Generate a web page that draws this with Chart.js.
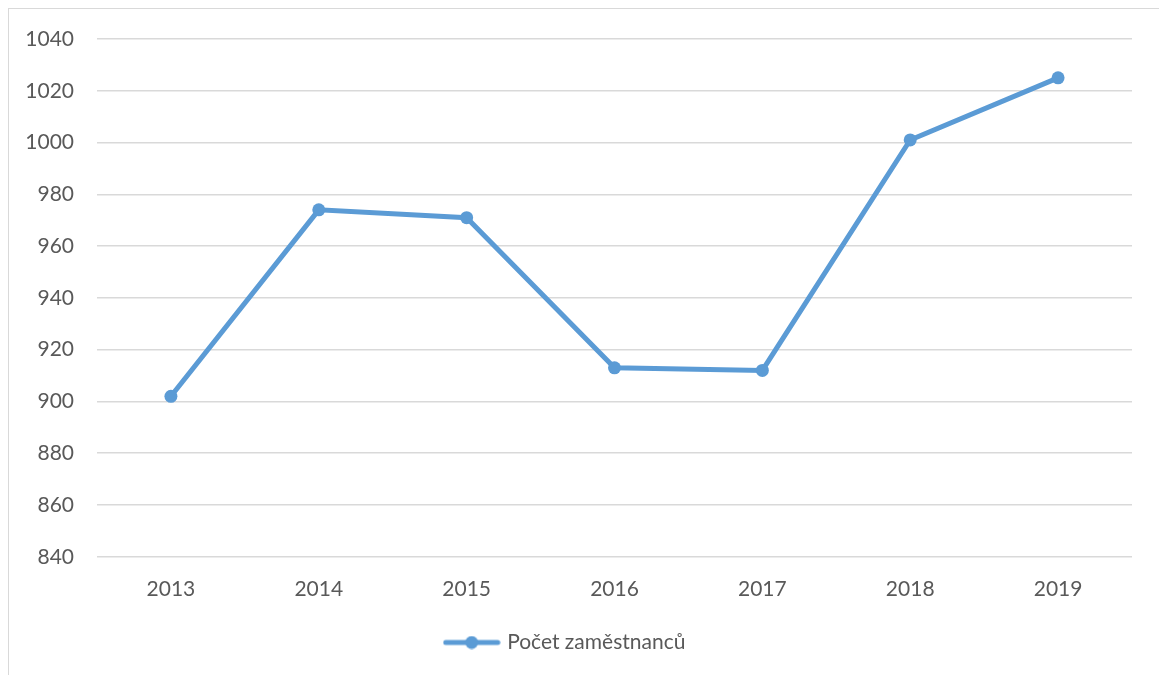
<!DOCTYPE html>
<html>
<head>
<meta charset="utf-8">
<script src="https://cdn.jsdelivr.net/npm/chart.js@4.4.1/dist/chart.umd.min.js"></script>
<style>
  html, body { margin: 0; padding: 0; background: #fff; overflow: hidden; }
  #wrap { position: relative; width: 1159px; height: 675px; }
  #frame { position: absolute; left: 8px; top: 8px; width: 1200px; height: 700px; border: 1.5px solid #d9d9d9; }
  #chart { position: absolute; left: 0; top: 0; }
</style>
</head>
<body>
<div id="wrap">
  <div id="frame"></div>
  <canvas id="chart" width="1159" height="675"></canvas>
</div>
<script>
// data
const years = ["2013", "2014", "2015", "2016", "2017", "2018", "2019"];
const employees = [902, 974, 971, 913, 912, 1001, 1025];
const seriesName = "Počet zaměstnanců";
const yMin = 840;
const yMax = 1040;
const yStep = 20;

const blue = "#5b9bd5";
const grey = "#595959";

// legend marker : line + dot
function legendMarker() {
  const c = document.createElement("canvas");
  c.width = 58;
  c.height = 14;
  const ctx = c.getContext("2d");
  ctx.strokeStyle = blue;
  ctx.lineWidth = 5;
  ctx.lineCap = "round";
  ctx.beginPath();
  ctx.moveTo(3, 7);
  ctx.lineTo(55, 7);
  ctx.stroke();
  ctx.fillStyle = blue;
  ctx.beginPath();
  ctx.arc(29, 7, 6.5, 0, Math.PI * 2);
  ctx.fill();
  return c;
}

Chart.defaults.font.family = "Lato, 'Open Sans', sans-serif";
Chart.defaults.font.size = 21;
Chart.defaults.color = grey;

new Chart(document.getElementById("chart"), {
  type: "line",
  data: {
    labels: years,
    datasets: [{
      label: seriesName,
      data: employees,
      borderColor: blue,
      backgroundColor: blue,
      borderWidth: 5,
      tension: 0,
      pointStyle: "circle",
      pointRadius: 6.5,
      pointBorderWidth: 0,
      pointBackgroundColor: blue
    }]
  },
  options: {
    responsive: false,
    animation: false,
    layout: { padding: { top: 39, right: 27, left: 0, bottom: 12 } },
    plugins: {
      tooltip: { enabled: false },
      legend: {
        position: "bottom",
        labels: {
          usePointStyle: true,
          pointStyle: legendMarker(),
          pointStyleWidth: 50,
          padding: 10,
          color: grey,
          font: { size: 21 }
        }
      }
    },
    scales: {
      x: {
        offset: true,
        grid: { display: false, drawTicks: false },
        border: { display: false },
        ticks: { padding: 20, color: grey }
      },
      y: {
        min: yMin,
        max: yMax,
        afterFit: (scale) => { scale.width = 97; },
        ticks: { stepSize: yStep, padding: 23, color: grey, callback: (v) => String(v) },
        grid: { color: "#d9d9d9", lineWidth: 1.5, drawTicks: false },
        border: { display: false }
      }
    }
  }
});
</script>
</body>
</html>
